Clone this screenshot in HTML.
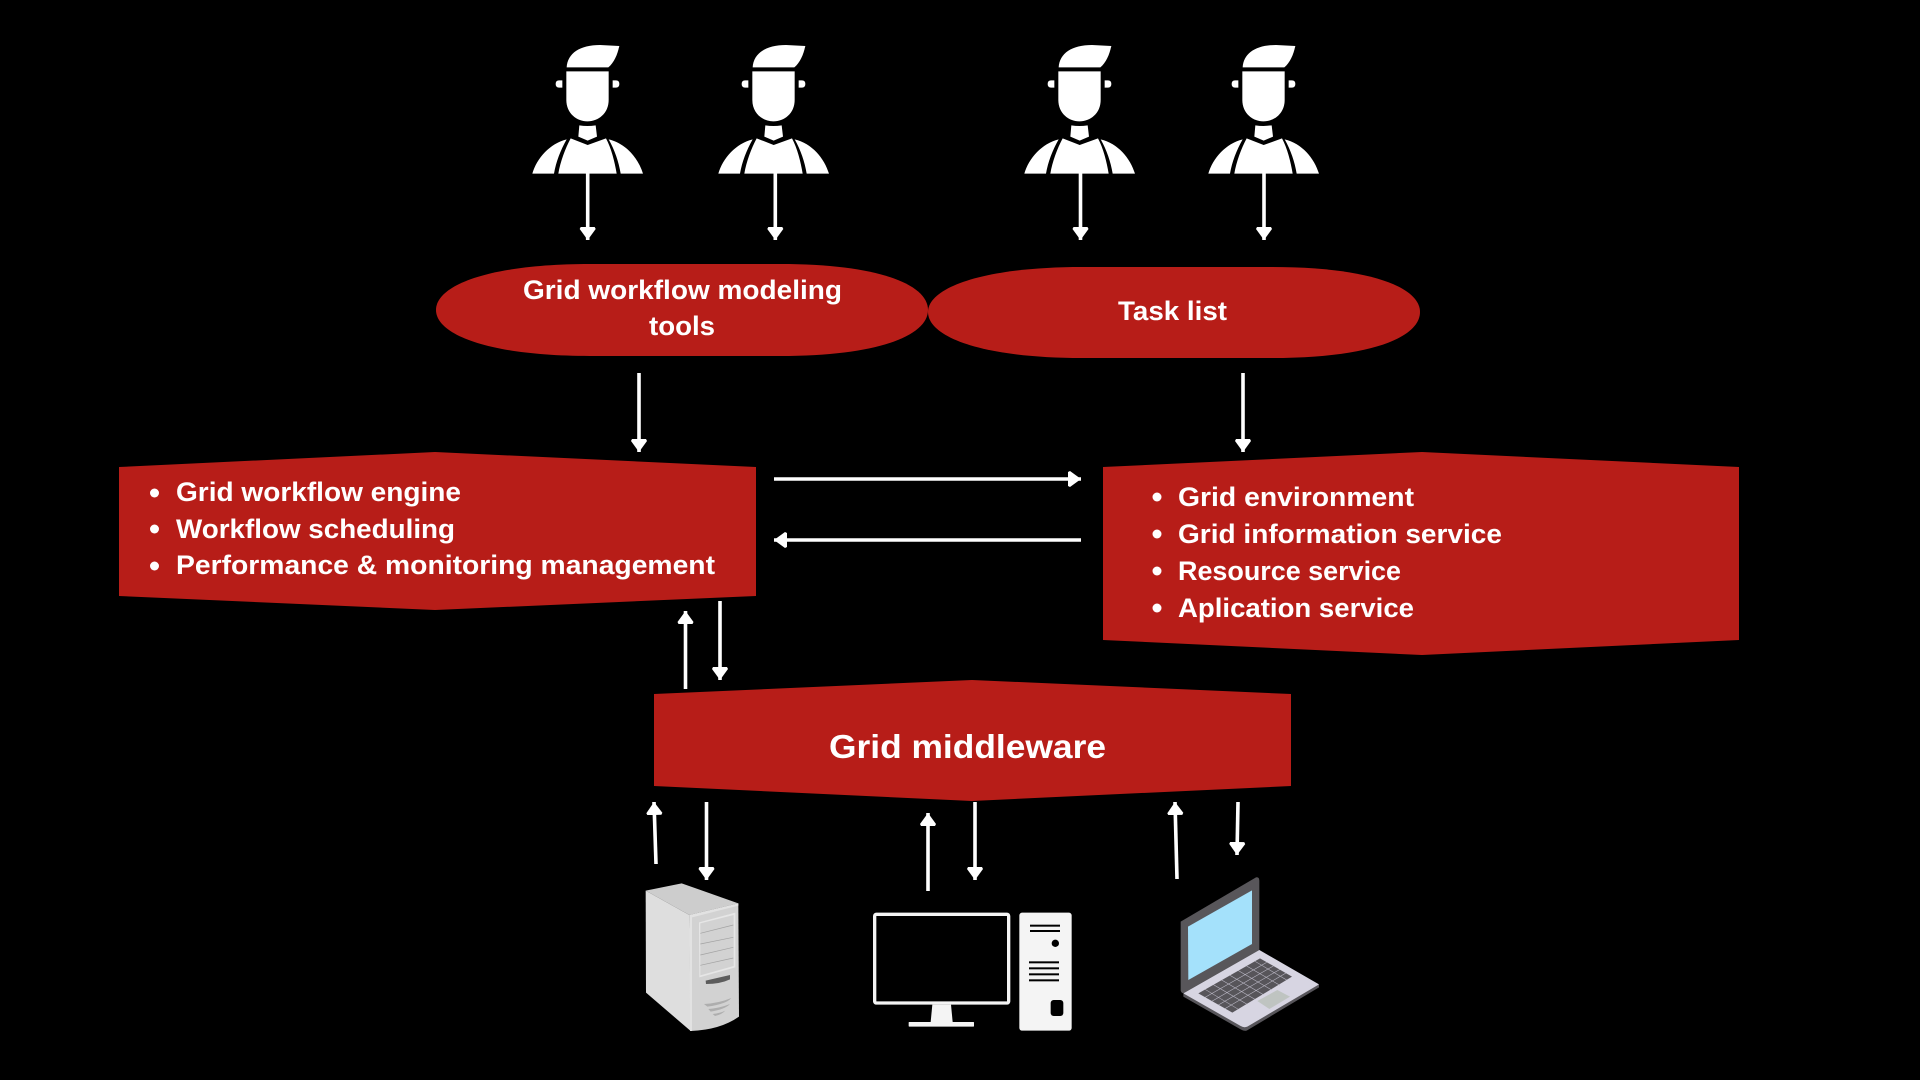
<!DOCTYPE html>
<html><head><meta charset="utf-8"><style>
html,body{margin:0;padding:0;background:#000;width:1920px;height:1080px;overflow:hidden}
svg{display:block}
text{font-family:"Liberation Sans",sans-serif;font-weight:700;fill:#fff}
</style></head><body>
<svg width="1920" height="1080" viewBox="0 0 1920 1080" xmlns="http://www.w3.org/2000/svg">
<defs>
<marker id="a" markerWidth="14" markerHeight="18" refX="13" refY="9" orient="auto" markerUnits="userSpaceOnUse"><path d="M0,2 L2,1 L13,9 L2,17 L0,16 Z" fill="#fff"/></marker>
<g id="p" fill="#fff">
<path d="M200,142 C202,100 240,75 300,75 L358,78 C352,105 342,128 325,142 Z"/>
<path d="M199,154 H326 V240 C326,280 295,304 262,304 C230,304 199,280 199,240 Z"/>
<path d="M187,181 H177 Q167,181 167,192 Q167,203 177,203 H187 Z"/>
<path d="M338,181 H348 Q358,181 358,192 Q358,203 348,203 H338 Z"/>
<path d="M238,316 Q262,320 287,316 L291,350 L263,362 L235,350 Z"/>
<path d="M212,355 L263,375 L318,355 C334,385 344,425 350,461 H175 C181,425 196,385 212,355 Z"/>
<path d="M97,461 C110,415 150,370 200,358 C182,390 168,425 162,461 Z"/>
<path d="M429,461 C415,415 378,370 326,358 C344,390 356,425 362,461 Z"/>
</g>
</defs>
<rect width="1920" height="1080" fill="#000"/>

<use href="#p" transform="translate(500,20) scale(.33333)"/>
<use href="#p" transform="translate(686,20) scale(.33333)"/>
<use href="#p" transform="translate(992,20) scale(.33333)"/>
<use href="#p" transform="translate(1176,20) scale(.33333)"/>

<g stroke="#fff" stroke-width="3.6" fill="none">
<line x1="587.7" y1="172" x2="587.7" y2="240" marker-end="url(#a)"/>
<line x1="775.3" y1="172" x2="775.3" y2="240" marker-end="url(#a)"/>
<line x1="1080.5" y1="172" x2="1080.5" y2="240" marker-end="url(#a)"/>
<line x1="1264" y1="172" x2="1264" y2="240" marker-end="url(#a)"/>
<line x1="639" y1="373" x2="639" y2="452" marker-end="url(#a)"/>
<line x1="1243" y1="373" x2="1243" y2="452" marker-end="url(#a)"/>
<line x1="774" y1="479" x2="1081" y2="479" marker-end="url(#a)"/>
<line x1="1081" y1="540" x2="774" y2="540" marker-end="url(#a)"/>
<line x1="685.5" y1="689" x2="685.5" y2="611" marker-end="url(#a)"/>
<line x1="720" y1="601" x2="720" y2="680" marker-end="url(#a)"/>
<line x1="656" y1="864" x2="654" y2="802" marker-end="url(#a)"/>
<line x1="706.5" y1="802" x2="706.5" y2="880" marker-end="url(#a)"/>
<line x1="928" y1="891" x2="928" y2="813" marker-end="url(#a)"/>
<line x1="975" y1="802" x2="975" y2="880" marker-end="url(#a)"/>
<line x1="1177" y1="879" x2="1175" y2="802" marker-end="url(#a)"/>
<line x1="1238" y1="802" x2="1237" y2="855" marker-end="url(#a)"/>
</g>

<g fill="#b71d18">
<path d="M436,310 C436,285 490,264 590,264 L780,264 C880,264 928,285 928,310 C928,335 880,356 780,356 L590,356 C490,356 436,335 436,310Z"/>
<path d="M928,312 C928,288 982,267 1082,267 L1272,267 C1372,267 1420,288 1420,312 C1420,337 1372,358 1272,358 L1082,358 C982,358 928,337 928,312Z"/>
<path d="M119,467 L435,452 L756,467 V596 L435,610 L119,596 Z"/>
<path d="M1103,467 L1422,452 L1739,467 V640 L1422,655 L1103,640 Z"/>
<path d="M654,694 L972,680 L1291,694 V786 L972,801 L654,786 Z"/>
</g>

<g font-size="27">
<text x="523" y="299" textLength="319" lengthAdjust="spacingAndGlyphs">Grid workflow modeling</text>
<text x="649" y="335" textLength="66" lengthAdjust="spacingAndGlyphs">tools</text>
<text x="1118" y="320" textLength="109" lengthAdjust="spacingAndGlyphs">Task list</text>
<text x="176" y="501" textLength="285" lengthAdjust="spacingAndGlyphs">Grid workflow engine</text>
<text x="176" y="538" textLength="279" lengthAdjust="spacingAndGlyphs">Workflow scheduling</text>
<text x="176" y="574" textLength="539" lengthAdjust="spacingAndGlyphs">Performance &amp; monitoring management</text>
<text x="1178" y="506" textLength="236" lengthAdjust="spacingAndGlyphs">Grid environment</text>
<text x="1178" y="543" textLength="324" lengthAdjust="spacingAndGlyphs">Grid information service</text>
<text x="1178" y="580" textLength="223" lengthAdjust="spacingAndGlyphs">Resource service</text>
<text x="1178" y="617" textLength="236" lengthAdjust="spacingAndGlyphs">Aplication service</text>
<text x="829" y="758" font-size="33" textLength="277" lengthAdjust="spacingAndGlyphs">Grid middleware</text>
</g>
<g fill="#fff">
<circle cx="154.5" cy="493" r="4.5"/><circle cx="154.5" cy="529" r="4.5"/><circle cx="154.5" cy="566" r="4.5"/>
<circle cx="1157" cy="497" r="4.5"/><circle cx="1157" cy="534" r="4.5"/><circle cx="1157" cy="571" r="4.5"/><circle cx="1157" cy="608" r="4.5"/>
</g>

<!-- server -->
<g transform="translate(620,860) scale(.33333)">
<path d="M77,92 L185,70 L355,130 L208,165 Z" fill="#cdcdcd"/>
<path d="M77,92 L208,165 L212,513 L78,398 Z" fill="#dedede"/>
<path d="M208,165 L355,130 L357,470 Q300,510 212,513 Z" fill="#d2d2d2"/>
<path d="M208,165 L355,130 L355,137 L216,172 V513 H210 Z" fill="#e2e2e2"/>
<path d="M237,187 L346,158 V322 L238,352 Z" fill="#e6e6e6"/>
<path d="M241,190 L341,165 V318 L241,346 Z" fill="#d2d2d2"/>
<g stroke="#a2a2a2" stroke-width="2" fill="none">
<line x1="241" y1="220" x2="340" y2="195"/>
<line x1="241" y1="252" x2="340" y2="232"/>
<line x1="241" y1="285" x2="340" y2="262"/>
<line x1="241" y1="316" x2="340" y2="294"/>
</g>
<path d="M257,362 L330,345 V358 Q300,372 258,372 Z" fill="#5c5c5c"/>
<path d="M252,432 Q295,430 334,414 Q320,432 262,440 Z" fill="#aeaeae"/>
<path d="M265,447 Q300,444 330,432 Q315,448 272,455 Z" fill="#aeaeae"/>
<path d="M278,462 Q300,460 316,452 Q305,464 285,468 Z" fill="#aeaeae"/>
</g>

<!-- desktop -->
<g transform="translate(860,880) scale(.33333)">
<rect x="44" y="103" width="402" height="266" rx="5" fill="#000" stroke="#f4f4f4" stroke-width="10"/>
<path d="M217,374 H273 L278,426 H212 Z" fill="#f4f4f4"/>
<rect x="146" y="426" width="196" height="14" rx="2" fill="#f4f4f4"/>
<rect x="478" y="98" width="157" height="354" rx="8" fill="#f4f4f4"/>
<rect x="510" y="134" width="90" height="6" fill="#000"/>
<rect x="510" y="150" width="90" height="6" fill="#000"/>
<circle cx="586" cy="190" r="11" fill="#000"/>
<rect x="507" y="244" width="90" height="6" fill="#000"/>
<rect x="507" y="262" width="90" height="6" fill="#000"/>
<rect x="507" y="280" width="90" height="6" fill="#000"/>
<rect x="507" y="298" width="90" height="6" fill="#000"/>
<rect x="572" y="360" width="38" height="48" rx="9" fill="#000"/>
</g>

<!-- laptop -->
<g transform="translate(1150,860) scale(.33333)">
<path d="M92,185 L318,52 Q328,50 328,62 V270 L100,400 Q92,398 92,390 Z" fill="#58565a"/>
<path d="M114,200 L306,91 V252 L115,360 Z" fill="#a4e1fb"/>
<path d="M100,402 L328,270 L507,375 V382 L290,512 Q282,514 272,508 L100,410 Z" fill="#57555a"/>
<path d="M100,400 L328,270 L507,373 L292,500 Q282,504 272,498 Z" fill="#d7d5e2"/>
<path d="M145,400 L330,295 L426,350 L247,458 Z" fill="#57555a"/>
<g stroke="#bdbbc8" stroke-width="1.6" fill="none">
<line x1="165" y1="412" x2="350" y2="307"/>
<line x1="185" y1="424" x2="370" y2="318"/>
<line x1="205" y1="435" x2="390" y2="328"/>
<line x1="225" y1="446" x2="408" y2="339"/>
<line x1="165" y1="388" x2="265" y2="448"/>
<line x1="190" y1="374" x2="290" y2="432"/>
<line x1="215" y1="360" x2="315" y2="418"/>
<line x1="240" y1="346" x2="340" y2="404"/>
<line x1="265" y1="332" x2="365" y2="390"/>
<line x1="290" y1="318" x2="390" y2="376"/>
<line x1="315" y1="304" x2="410" y2="360"/>
</g>
<path d="M322,423 L382,390 L420,410 L358,447 Z" fill="#bfc4c1"/>
</g>
</svg>
</body></html>
